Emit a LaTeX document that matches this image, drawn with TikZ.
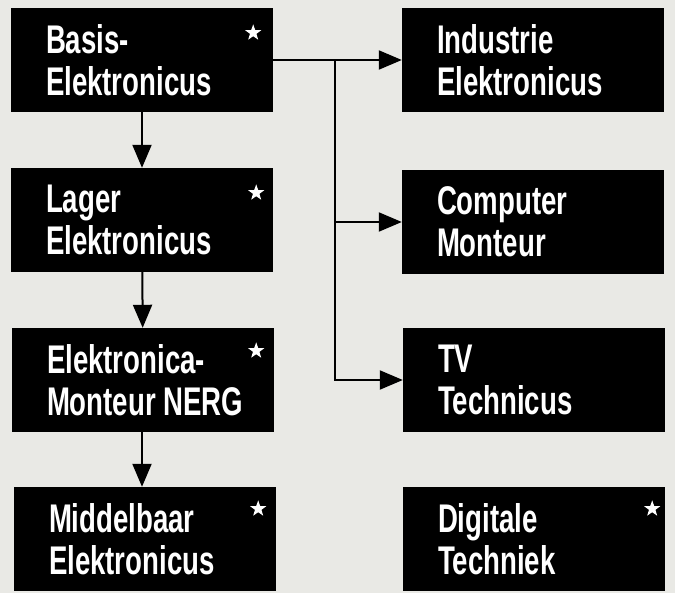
\documentclass[tikz,border=0pt]{standalone}
\usepackage{fontspec}
\setmainfont{Liberation Sans}[FakeStretch=0.69]
\usetikzlibrary{arrows.meta,shapes.geometric}

\definecolor{paper}{RGB}{233,233,229}

\begin{document}
\begin{tikzpicture}[
    x=1pt, y=1pt,
    course/.style={rectangle, fill=black, minimum width=262pt, minimum height=104pt, inner sep=0pt},
    title/.style={anchor=west, align=left, text=white, inner sep=0pt,
                  font=\fontsize{40}{42}\selectfont\bfseries},
    starmark/.style={star, star points=5, star point ratio=2.5, fill=white,
                     minimum size=17pt, inner sep=0pt},
    flow/.style={line width=2pt, -{Triangle[length=23pt, width=19pt]}}
  ]

  \fill[paper] (0,0) rectangle (675,-593);

  % left column
  \node[course] (basis) at (142,-60) {};
  \node[course] (lager) at (142,-220) {};
  \node[course] (nerg) at (143,-380) {};
  \node[course] (middel) at (145,-539) {};

  % right column
  \node[course] (industrie) at (533,-60) {};
  \node[course] (computer) at (533,-222) {};
  \node[course] (tv) at (534,-380) {};
  \node[course] (digitaal) at (534,-539) {};

  % texts
  \node[title] (basisT) at ([xshift=35pt]basis.west) {Basis-\\Elektronicus};
  \node[title] (lagerT) at ([xshift=35pt]lager.west) {Lager\\Elektronicus};
  \node[title] (nergT) at ([xshift=35pt]nerg.west) {Elektronica-\\Monteur NERG};
  \node[title] (middelT) at ([xshift=35pt]middel.west) {Middelbaar\\Elektronicus};
  \node[title] (industrieT) at ([xshift=35pt]industrie.west) {Industrie\\Elektronicus};
  \node[title] (computerT) at ([xshift=35pt]computer.west) {Computer\\Monteur};
  \node[title] (tvT) at ([xshift=35pt]tv.west) {TV\\Technicus};
  \node[title] (digitaalT) at ([xshift=35pt]digitaal.west) {Digitale\\Techniek};

  % stars
  \node[starmark] (basisS) at ([xshift=-20pt, yshift=-25pt]basis.north east) {};
  \node[starmark] (lagerS) at ([xshift=-17pt, yshift=-25pt]lager.north east) {};
  \node[starmark] (nergS) at ([xshift=-18pt, yshift=-23pt]nerg.north east) {};
  \node[starmark] (middelS) at ([xshift=-18pt, yshift=-22pt]middel.north east) {};
  \node[starmark] (digitaalS) at ([xshift=-13pt, yshift=-22pt]digitaal.north east) {};

  % connections
  \draw[flow] (basis) -- (lager);
  \draw[flow] (lager) -- (nerg);
  \draw[flow] (nerg.south -| lager.south) -- (middel.north -| lager.south);

  \coordinate (split) at (335,-60);
  \draw[flow] (basis.east) -- (industrie.west);
  \draw[flow] (split) |- (tv.west);
  \draw[flow] (split |- computer.west) -- (computer.west);
\end{tikzpicture}
\end{document}
